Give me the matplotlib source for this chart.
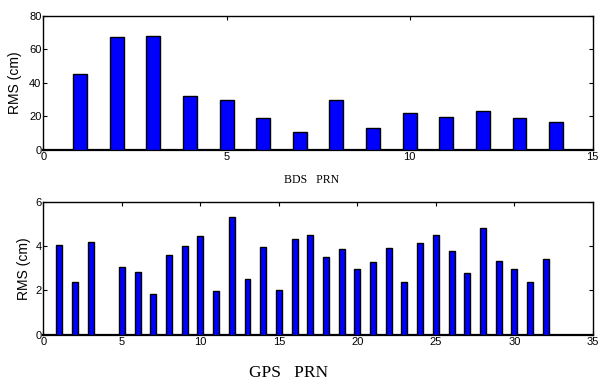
import numpy as np
import matplotlib
matplotlib.use("Agg")
import matplotlib.pyplot as plt

bds_prn = list(range(1, 15))
bds_rms = [45.1, 67.2, 67.8, 31.9, 29.7, 19.0, 10.8, 29.6, 13.0, 22.0, 19.4, 23.3, 19.0, 16.6]

gps_prn = list(range(1, 33))
gps_rms = [4.07, 2.37, 4.20, 0.0, 3.04, 2.85, 1.84, 3.61, 4.02, 4.48,
           1.96, 5.30, 2.51, 3.98, 2.02, 4.33, 4.49, 3.52, 3.89, 2.98,
           3.30, 3.92, 2.39, 4.16, 4.52, 3.80, 2.77, 4.84, 3.33, 2.98,
           2.36, 3.43]

plt.rcParams['font.family'] = ['Liberation Sans', 'DejaVu Sans']

fig = plt.figure(figsize=(5.99, 3.81), dpi=100)
ax1 = fig.add_axes([0.0726, 0.6076, 0.917, 0.350])
ax2 = fig.add_axes([0.0726, 0.1220, 0.917, 0.348])

def style(ax):
	ax.tick_params(direction='in', length=3, width=0.8, labelsize=8,
		top=True, right=True, pad=1.5, colors='black')
	for s in ax.spines.values():
		s.set_linewidth(1.0)
	ax.spines['bottom'].set_linewidth(1.6)

ax1.bar(bds_prn, bds_rms, width=0.38, color='#0000ff', edgecolor='black', linewidth=1.0, zorder=3)
ax1.set_xlim(0, 15)
ax1.set_ylim(0, 80)
ax1.set_xticks([0, 5, 10, 15])
ax1.set_yticks([0, 20, 40, 60, 80])
ax1.set_ylabel("RMS (cm)", fontsize=10, labelpad=5)
style(ax1)

ax2.bar(gps_prn, gps_rms, width=0.38, color='#0000ff', edgecolor='black', linewidth=1.0, zorder=3)
ax2.set_xlim(0, 35)
ax2.set_ylim(0, 6)
ax2.set_xticks([0, 5, 10, 15, 20, 25, 30, 35])
ax2.set_yticks([0, 2, 4, 6])
ax2.set_ylabel("RMS (cm)", fontsize=10, labelpad=3)
style(ax2)

fig.text(0.52, 0.528, "BDS   PRN", family='Liberation Serif', fontsize=8.5, ha='center', va='center')
fig.text(0.481, 0.021, "GPS   PRN", family='Liberation Serif', fontsize=12.5, ha='center', va='center')

fig.savefig("out.png", dpi=100)
